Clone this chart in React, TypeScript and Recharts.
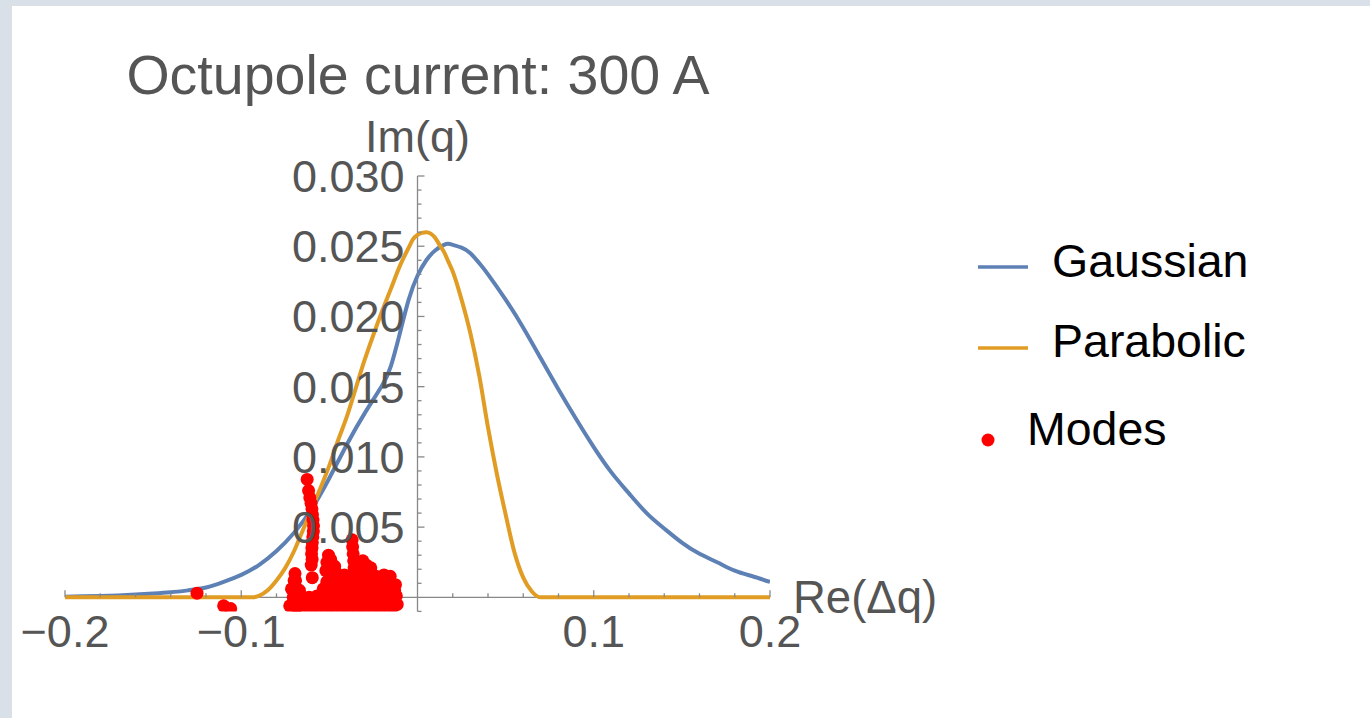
import { ComposedChart, Line, Scatter, XAxis, YAxis, ReferenceLine, ReferenceDot } from "recharts"

const W = 1370
const H = 718
const AXIS = "#888888"
const LABEL = "#555555"
const FONT = "'Liberation Sans', Arial, sans-serif"
const BLUE = "#5e81b5"
const ORANGE = "#e19c24"
const RED = "#ff0000"

// Gaussian curve
const gaussianX = [-0.2, -0.19, -0.18, -0.17, -0.16, -0.15, -0.14, -0.13, -0.12, -0.11, -0.1, -0.09, -0.08, -0.07, -0.06, -0.05, -0.04, -0.03, -0.02, -0.015, -0.01, -0.005, 0, 0.005, 0.01, 0.015, 0.0175, 0.02, 0.025, 0.03, 0.035, 0.04, 0.05, 0.06, 0.07, 0.08, 0.09, 0.1, 0.11, 0.12, 0.13, 0.14, 0.15, 0.16, 0.17, 0.18, 0.19, 0.2]
const gaussianY = [0.00005, 0.00007, 0.0001, 0.00014, 0.0002, 0.00027, 0.00036, 0.0005, 0.0007, 0.0011, 0.0016, 0.0023, 0.0033, 0.0046, 0.0063, 0.0085, 0.0109, 0.0131, 0.0151, 0.0165, 0.0188, 0.0212, 0.0229, 0.024, 0.0247, 0.0251, 0.02518, 0.0251, 0.0249, 0.0245, 0.0238, 0.023, 0.0212, 0.0192, 0.017, 0.0148, 0.0127, 0.0107, 0.0089, 0.0074, 0.006, 0.0049, 0.0039, 0.0031, 0.0025, 0.0019, 0.0015, 0.0011]

// Parabolic curve
const parabolicX = [-0.2, -0.1, -0.093, -0.09, -0.085, -0.08, -0.075, -0.07, -0.065, -0.06, -0.055, -0.05, -0.045, -0.04, -0.035, -0.03, -0.025, -0.02, -0.015, -0.01, -0.005, -0.0025, 0, 0.0025, 0.005, 0.0075, 0.01, 0.0125, 0.015, 0.0175, 0.02, 0.025, 0.03, 0.035, 0.04, 0.045, 0.05, 0.055, 0.06, 0.065, 0.07, 0.2]
const parabolicY = [0, 0, 0, 0.0001, 0.0005, 0.0012, 0.0021, 0.0033, 0.0048, 0.0063, 0.0078, 0.0094, 0.0112, 0.0129, 0.0149, 0.0169, 0.0187, 0.0204, 0.022, 0.0236, 0.0249, 0.0255, 0.0258, 0.02595, 0.026, 0.0259, 0.0256, 0.0251, 0.0246, 0.0239, 0.0232, 0.0212, 0.0188, 0.0158, 0.0121, 0.0088, 0.0059, 0.0032, 0.0014, 0.0004, 0, 0]

// modes (red points)
const modesX = [
  // spire
  -0.0626, -0.0618, -0.0611, -0.0604, -0.0599, -0.0596, -0.0593, -0.059, -0.0591, -0.0594, -0.0597, -0.0599, -0.0601, -0.0598, -0.0603, -0.0597,
  // left column
  -0.0695, -0.0692, -0.069, -0.0693, -0.0689, -0.0686,
  // middle group
  -0.052, -0.0514, -0.0505, -0.0493, -0.048, -0.0468, -0.0458,
  // peak column
  -0.0371, -0.0368, -0.0365, -0.0362, -0.036, -0.0366,
  // bump near -0.03
  -0.0505, -0.047, -0.033, -0.031, -0.029, -0.0265,
  // row ~0.0018
  -0.05, -0.046, -0.0415, -0.0325, -0.028, -0.0235, -0.019, -0.0155,
  // row ~0.0012
  -0.07, -0.0515, -0.047, -0.0425, -0.038, -0.0335, -0.029, -0.0245, -0.02, -0.0155, -0.0125,
  // row ~0.0006
  -0.0715, -0.067, -0.0535, -0.049, -0.0445, -0.04, -0.0355, -0.031, -0.0265, -0.022, -0.0175, -0.013,
  // row ~0
  -0.0705, -0.066, -0.0615, -0.057, -0.0525, -0.048, -0.0435, -0.039, -0.0345, -0.03, -0.0255, -0.021, -0.0165, -0.012,
  // row ~-0.0006
  -0.0725, -0.068, -0.0635, -0.059, -0.0545, -0.05, -0.0455, -0.041, -0.0365, -0.032, -0.0275, -0.023, -0.0185, -0.014, -0.0115,
  // isolated
  -0.1251, -0.11, -0.106,
]
const modesY = [
  0.0084, 0.0076, 0.0071, 0.0067, 0.0063, 0.0059, 0.0055, 0.0051, 0.0047, 0.0043, 0.0039, 0.0035, 0.0031, 0.0027, 0.0023, 0.0014,
  0.0017, 0.0012, 0.0007, 0.0002, -0.0003, -0.0007,
  0.0019, 0.0025, 0.003, 0.0027, 0.0023, 0.0019, 0.0015,
  0.0041, 0.0036, 0.0031, 0.0026, 0.0021, 0.0016,
  0.0024, 0.0022, 0.0021, 0.0026, 0.0023, 0.0021,
  0.0018, 0.0017, 0.0016, 0.0017, 0.0016, 0.0015, 0.0016, 0.0015,
  0.0012, 0.0011, 0.0012, 0.0011, 0.0012, 0.0011, 0.0012, 0.0011, 0.0012, 0.001, 0.0009,
  0.0006, 0.0005, 0.0006, 0.0005, 0.0006, 0.0005, 0.0006, 0.0005, 0.0006, 0.0005, 0.0006, 0.0005,
  0.0000, 0.0001, 0.0000, 0.0001, 0.0000, 0.0001, 0.0000, 0.0001, 0.0000, 0.0001, 0.0000, 0.0001, 0.0000, 0.0001,
  -0.0006, -0.0007, -0.0006, -0.0007, -0.0006, -0.0007, -0.0006, -0.0007, -0.0006, -0.0007, -0.0006, -0.0007, -0.0006, -0.0007, -0.0005,
  0.0003, -0.0006, -0.0008,
]

// ticks
const xTickLabels = [-0.2, -0.1, 0.1, 0.2]
const yTickLabels = [0.005, 0.01, 0.015, 0.02, 0.025, 0.03]
const xMinorTicks = Array.from({ length: 21 }, (_, i) => +(-0.2 + i * 0.02).toFixed(2)).filter((v) => v !== 0)
const yMinorTicks = Array.from({ length: 32 }, (_, i) => +(-0.001 + i * 0.001).toFixed(3)).filter((v) => v !== 0)

const gaussianData = gaussianX.map((x, i) => ({ x, y: gaussianY[i] }))
const parabolicData = parabolicX.map((x, i) => ({ x, y: parabolicY[i] }))
const modesData = modesX.map((x, i) => ({ x, y: modesY[i] }))

const isMajor = (v: number, step: number) => Math.abs(v / step - Math.round(v / step)) < 1e-6

const fmtX = (v: number) => (v < 0 ? "\u2212" : "") + Math.abs(v).toFixed(1)

export default function App() {
  return (
    <div style={{ position: "absolute", left: 0, top: 0, width: W, height: H, background: "#d9e0e7", overflow: "hidden" }}>
      <div style={{ position: "absolute", left: 12, top: 6, right: 0, bottom: 0, background: "#ffffff" }} />
      <div style={{ position: "absolute", left: 0, top: 0 }}>
        <ComposedChart width={W} height={H} margin={{ top: 176, right: 600, bottom: 106.6, left: 65 }}>
          <XAxis type="number" dataKey="x" domain={[-0.2, 0.2]} allowDataOverflow hide />
          <YAxis type="number" dataKey="y" domain={[-0.001, 0.03]} allowDataOverflow hide />

          <ReferenceLine y={0} stroke={AXIS} strokeWidth={1.3} />
          <ReferenceLine x={0} stroke={AXIS} strokeWidth={1.3} />

          {xMinorTicks.map((v) => (
            <ReferenceDot
              key={"xt" + v}
              x={v}
              y={0}
              r={1}
              shape={(p: any) => (
                <line x1={p.cx} y1={p.cy} x2={p.cx} y2={p.cy - (isMajor(v, 0.1) ? 7 : 4)} stroke={AXIS} strokeWidth={1.3} />
              )}
            />
          ))}
          {yMinorTicks.map((v) => (
            <ReferenceDot
              key={"yt" + v}
              x={0}
              y={v}
              r={1}
              shape={(p: any) => (
                <line x1={p.cx} y1={p.cy} x2={p.cx + (isMajor(v, 0.005) ? 7 : 4)} y2={p.cy} stroke={AXIS} strokeWidth={1.3} />
              )}
            />
          ))}

          <Line data={gaussianData} dataKey="y" type="natural" stroke={BLUE} strokeWidth={4} dot={false} activeDot={false} isAnimationActive={false} />
          <Line data={parabolicData} dataKey="y" type="monotone" stroke={ORANGE} strokeWidth={4} dot={false} activeDot={false} isAnimationActive={false} />
          <Scatter
            data={modesData}
            dataKey="y"
            fill={RED}
            isAnimationActive={false}
            shape={(p: any) => <circle cx={p.cx} cy={p.cy} r={6.5} fill={RED} />}
          />

          {xTickLabels.map((v) => (
            <ReferenceDot
              key={"xl" + v}
              x={v}
              y={0}
              r={1}
              shape={(p: any) => (
                <text x={p.cx} y={p.cy + 50} textAnchor="middle" fontFamily={FONT} fontSize={45} fill={LABEL}>
                  {fmtX(v)}
                </text>
              )}
            />
          ))}
          {yTickLabels.map((v) => (
            <ReferenceDot
              key={"yl" + v}
              x={0}
              y={v}
              r={1}
              shape={(p: any) => (
                <text x={p.cx - 13} y={p.cy + 16} textAnchor="end" fontFamily={FONT} fontSize={45} fill={LABEL}>
                  {v.toFixed(3)}
                </text>
              )}
            />
          ))}
          <ReferenceDot
            x={0}
            y={0.03}
            r={1}
            shape={(p: any) => (
              <text x={p.cx} y={p.cy - 24} textAnchor="middle" fontFamily={FONT} fontSize={45} fill={LABEL}>
                Im(q)
              </text>
            )}
          />
          <ReferenceDot
            x={0.2}
            y={0}
            r={1}
            shape={(p: any) => (
              <text x={p.cx + 23} y={p.cy + 16} textAnchor="start" fontFamily={FONT} fontSize={45.5} fill={LABEL}>
                Re(Δq)
              </text>
            )}
          />
        </ComposedChart>
      </div>
      <svg width={W} height={H} style={{ position: "absolute", left: 0, top: 0, pointerEvents: "none" }}>
        <text x={418} y={94} textAnchor="middle" fontFamily={FONT} fontSize={55.5} fill={LABEL}>
          Octupole current: 300 A
        </text>
        <line x1={978} y1={267} x2={1028} y2={267} stroke={BLUE} strokeWidth={3.5} />
        <text x={1052} y={277} fontFamily={FONT} fontSize={46.5} fill="#000">Gaussian</text>
        <line x1={978} y1={348} x2={1028} y2={348} stroke={ORANGE} strokeWidth={3.5} />
        <text x={1052} y={357} fontFamily={FONT} fontSize={46.5} fill="#000">Parabolic</text>
        <circle cx={988} cy={440} r={6.5} fill={RED} />
        <text x={1027} y={445} fontFamily={FONT} fontSize={46.5} fill="#000">Modes</text>
      </svg>
    </div>
  )
}
